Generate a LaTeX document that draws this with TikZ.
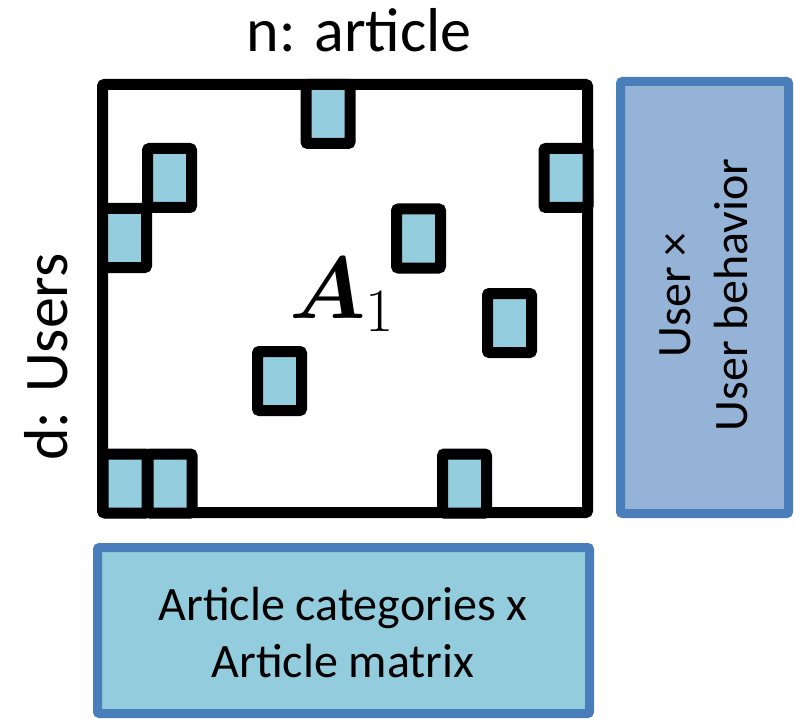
\RequirePackage{fix-cm}
\documentclass[tikz,border=0pt]{standalone}
\usepackage{amsmath}
\usepackage{bm}
\usepackage{fontspec}
\newfontfamily\calibri{Carlito}
\definecolor{cellblue}{HTML}{94CDDD}
\definecolor{boxedge}{HTML}{4A7EBB}
\definecolor{userfill}{HTML}{95B3D7}
\definecolor{artfill}{HTML}{93CDDD}
\tikzset{
  frame/.style={draw=black, line width=11pt, rounded corners=2pt, inner sep=0pt},
  cell/.style={draw=black, fill=cellblue, line width=11pt, rounded corners=2pt,
    minimum width=44pt, minimum height=59pt, inner sep=0pt},
  sidebox/.style={draw=boxedge, line width=9pt, rounded corners=2pt, inner sep=0pt},
  lbl/.style={font=\calibri\fontsize{62}{62}\selectfont, inner sep=0pt},
  boxtext/.style={align=center, inner sep=0pt}
}
\begin{document}
\begin{tikzpicture}[x=1pt, y=-1pt]
\useasboundingbox (0,0) rectangle (794,719);
% main matrix frame
\node[frame, minimum width=485pt, minimum height=428pt] (frame) at (345,298.5) {};
% nonzero cells
\node[cell] (c1) at (328,114) {};
\node[cell] (c2) at (169.5,178) {};
\node[cell] (c3) at (124.5,238) {};
\node[cell] (c4) at (566,178) {};
\node[cell] (c5) at (418.5,238.5) {};
\node[cell] (c6) at (509.5,323) {};
\node[cell] (c7) at (279.5,381) {};
\node[cell] (c8) at (125,483.5) {};
\node[cell] (c9) at (170,483.5) {};
\node[cell] (c10) at (464.5,483.5) {};
% matrix label
\node[anchor=base west, inner sep=0pt, font=\fontsize{88}{88}\selectfont] (A) at (289,318) {$\bm{A}_1$};
% axis labels
\node[lbl, anchor=base] (n) at (359,52) {n: article};
\node[lbl, anchor=base, rotate=90] (d) at (67,357) {d: Users};
% side boxes
\node[sidebox, fill=userfill, minimum width=168pt, minimum height=432pt] (user) at (704.5,297.5) {};
\node[boxtext, rotate=90, font=\calibri\fontsize{48}{57}\selectfont] (usertext) at (704,295) {User \texttimes\\User behavior};
\node[sidebox, fill=artfill, minimum width=492pt, minimum height=166pt] (art) at (343.5,630.5) {};
\node[boxtext, font=\calibri\fontsize{48}{57}\selectfont] (arttext) at (343,632.5) {Article categories x\\Article matrix};
\end{tikzpicture}
\end{document}
